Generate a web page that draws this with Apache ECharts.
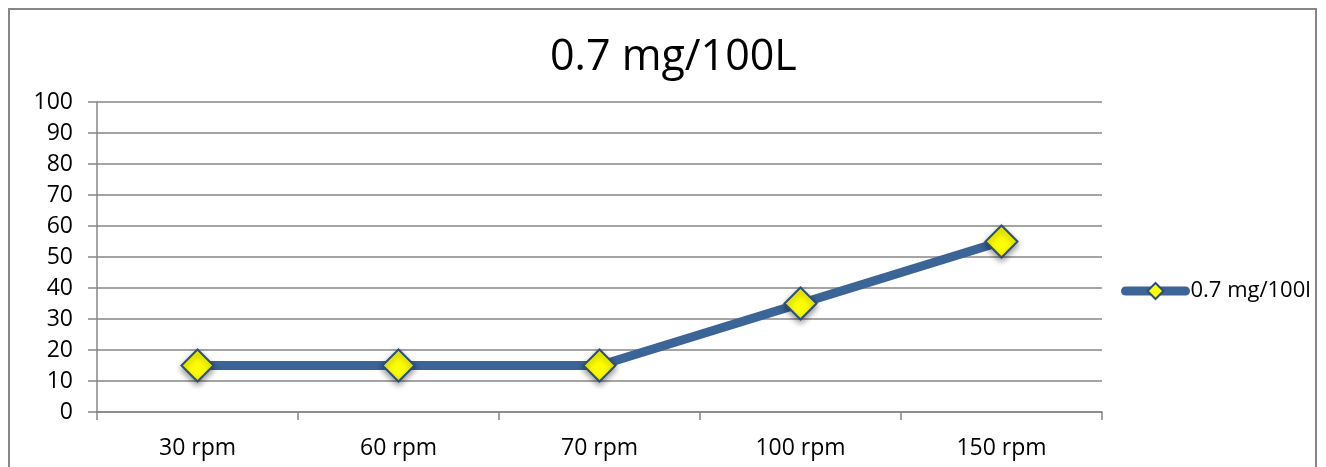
<!DOCTYPE html>
<html><head><meta charset="utf-8">
<script src="https://cdn.jsdelivr.net/npm/echarts@6/dist/echarts.min.js"></script>
<style>html,body{margin:0;padding:0;background:#fff}#c{width:1326px;height:467px}</style>
</head><body><div id="c"></div>
<script>
const categories = ['30 rpm', '60 rpm', '70 rpm', '100 rpm', '150 rpm'];
const values = [15, 15, 15, 35, 55];
const seriesName = '0.7 mg/100l';
const titleText = '0.7 mg/100L';
const font = 'Open Sans';
const chart = echarts.init(document.getElementById('c'));
chart.setOption({
  animation: false,
  textStyle: { fontFamily: font },
  graphic: [{ type: 'rect', shape: { x: 9, y: 9, width: 1307, height: 470 }, style: { fill: 'none', stroke: '#878787', lineWidth: 2 } }],
  title: { text: titleText, left: 545, top: 31, textStyle: { fontFamily: font, fontSize: 43, fontWeight: 'normal', color: '#000' } },
  legend: { left: 1116, top: 275, itemWidth: 60, itemHeight: 20, itemGap: 0,
    lineStyle: { width: 9, cap: 'round' },
    textStyle: { fontFamily: font, fontSize: 22, color: '#000' }, data: [seriesName] },
  grid: { left: 97, right: 224, top: 102, bottom: 55 },
  xAxis: { type: 'category', data: categories, boundaryGap: true,
    axisLine: { lineStyle: { color: '#878787', width: 1.5 } },
    axisTick: { show: true, length: 8, lineStyle: { color: '#878787', width: 1.5 } },
    axisLabel: { color: '#000', fontSize: 23, fontFamily: font, margin: 25 } },
  yAxis: { type: 'value', min: 0, max: 100, interval: 10,
    axisLine: { show: true, lineStyle: { color: '#878787', width: 1.5 } },
    axisTick: { show: true, length: 9, lineStyle: { color: '#878787', width: 1.5 } },
    splitLine: { lineStyle: { color: '#878787', width: 1.5 } },
    axisLabel: { color: '#000', fontSize: 23, fontFamily: font, margin: 24 } },
  series: [{ name: seriesName, type: 'line', data: values, symbol: 'diamond', symbolSize: 32,
    lineStyle: { color: '#3B6497', width: 9 },
    itemStyle: { color: '#FFFF00', borderColor: '#2C4E78', borderWidth: 2, shadowColor: 'rgba(0,0,0,0.4)', shadowBlur: 6, shadowOffsetY: 3 } }]
});
</script></body></html>
